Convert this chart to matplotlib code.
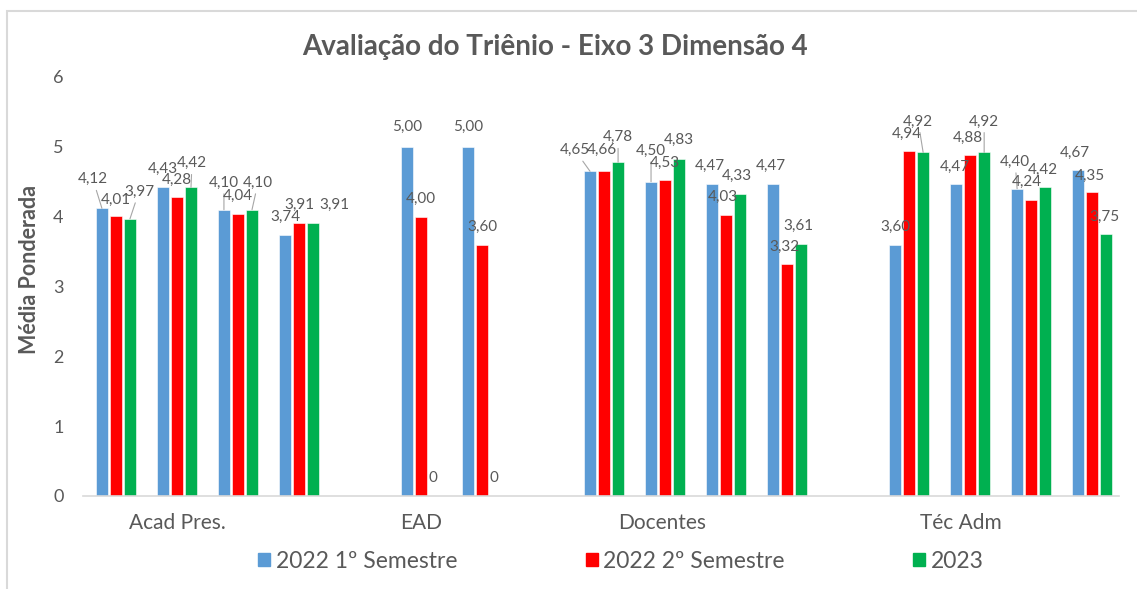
import numpy as np
import matplotlib
matplotlib.use('Agg')
import matplotlib.pyplot as plt
from matplotlib.patches import Rectangle, Patch

plt.rcParams['font.family'] = ['Lato', 'DejaVu Sans']

# data
categories = ['Acad Pres.', 'EAD', 'Docentes', 'Téc Adm']
n_items = [4, 2, 4, 4]
series_names = ['2022 1º Semestre', '2022 2º Semestre', '2023']
sem1_2022 = [4.12, 4.43, 4.10, 3.74, 5.00, 5.00, 4.65, 4.50, 4.47, 4.47,
             3.60, 4.47, 4.40, 4.67]
sem2_2022 = [4.01, 4.28, 4.04, 3.91, 4.00, 3.60, 4.66, 4.53, 4.03, 3.32,
             4.94, 4.88, 4.24, 4.35]
ano_2023 = [3.97, 4.42, 4.10, 3.91, 0, 0, 4.78, 4.83, 4.33, 3.61,
            4.92, 4.92, 4.42, 3.75]

colours = ['#5B9BD5', '#FF0000', '#00B050']
grey = '#595959'

# slot layout: one empty slot between categories
group_start = [0, 5, 8, 13]
slots = np.concatenate([np.arange(s, s + n) for s, n in zip(group_start, n_items)])
cat_label_pos = [1.0, 5.0, 8.95, 13.85]

# label offsets in pixels (dx, dy) and whether a leader line is drawn
label_style = [
    [(-9, 29, 1), (0, 18, 0), (0, 27, 1), (0, 18, 0), (0, 20, 0), (0, 20, 0),
     (-15, 21, 1), (0, 31, 1), (-2, 18, 0), (-2, 18, 0),
     (0, 18, 0), (-1, 17, 0), (-2, 27, 1), (-3, 17, 0)],
    [(0, 16, 0), (0, 17, 0), (0, 18, 0), (0, 18, 0), (0, 18, 0), (0, 18, 0),
     (-2, 21, 0), (0, 17, 0), (-3, 18, 0), (-3, 17, 0),
     (-2, 17, 0), (-2, 17, 0), (-4, 18, 0), (-2, 16, 0)],
    [(9, 27, 1), (1, 24, 1), (6, 27, 1), (21, 18, 0), (-2, 18, 0), (-2, 18, 0),
     (0, 25, 1), (0, 19, 0), (-3, 18, 0), (-3, 18, 0),
     (-5, 31, 1), (0, 31, 1), (-2, 17, 0), (-2, 17, 0)],
]

fig = plt.figure(figsize=(11.37, 5.89), dpi=100)
ax = fig.add_axes([83/1137, 1 - 496/589, (1119 - 83)/1137, (496 - 77)/589])

width = 0.19
pitch = 0.23
for k, vals in enumerate([sem1_2022, sem2_2022, ano_2023]):
    xs = slots + (k - 1) * pitch
    ax.bar(xs, vals, width, color=colours[k], edgecolor='white',
           linewidth=0.4, zorder=2)
    for x, v, (dx, dy, lead) in zip(xs, vals, label_style[k]):
        txt = '0' if v == 0 else ('%.2f' % v).replace('.', ',')
        props = None
        if lead:
            props = dict(arrowstyle='-', color='#A6A6A6', lw=0.8,
                         shrinkA=1, shrinkB=0)
        ax.annotate(txt, xy=(x, v), xytext=(dx, dy), textcoords='offset pixels',
                    ha='center', va='center', fontsize=11, color=grey,
                    arrowprops=props, zorder=3)

ax.set_xlim(-0.54, 16.44)
ax.set_ylim(0, 6)
ax.set_yticks(range(0, 7))
ax.set_xticks(cat_label_pos)
ax.set_xticklabels(categories)
ax.tick_params(axis='both', length=0, labelcolor=grey)
ax.tick_params(axis='y', pad=14, labelsize=13)
ax.tick_params(axis='x', pad=12, labelsize=15)
for side in ['top', 'right', 'left']:
    ax.spines[side].set_visible(False)
ax.spines['bottom'].set_color('#D9D9D9')
ax.spines['bottom'].set_linewidth(1.2)

fig.text(555/1137, 1 - 47/589, 'Avaliação do Triênio - Eixo 3 Dimensão 4',
         ha='center', va='center', fontsize=20, fontweight='bold', color=grey)
fig.text(30/1137, 1 - 270/589, 'Média Ponderada', rotation=90,
         ha='center', va='center', fontsize=15.5, fontweight='bold', color=grey)

handles = [Patch(color=c) for c in colours]
fig.legend(handles, series_names, loc='center', bbox_to_anchor=(621/1137, 1 - 561/589),
           ncol=3, frameon=False, fontsize=16.5, labelcolor=grey,
           handlelength=0.52, handleheight=0.52, handletextpad=0.25,
           columnspacing=5.6)

# chart frame
fig.add_artist(Rectangle((7/1137, -0.1), 1.2, 1.1 - 11/589, transform=fig.transFigure,
                         fill=False, edgecolor='#D9D9D9', linewidth=1.5))

fig.savefig('out.png', dpi=100)
